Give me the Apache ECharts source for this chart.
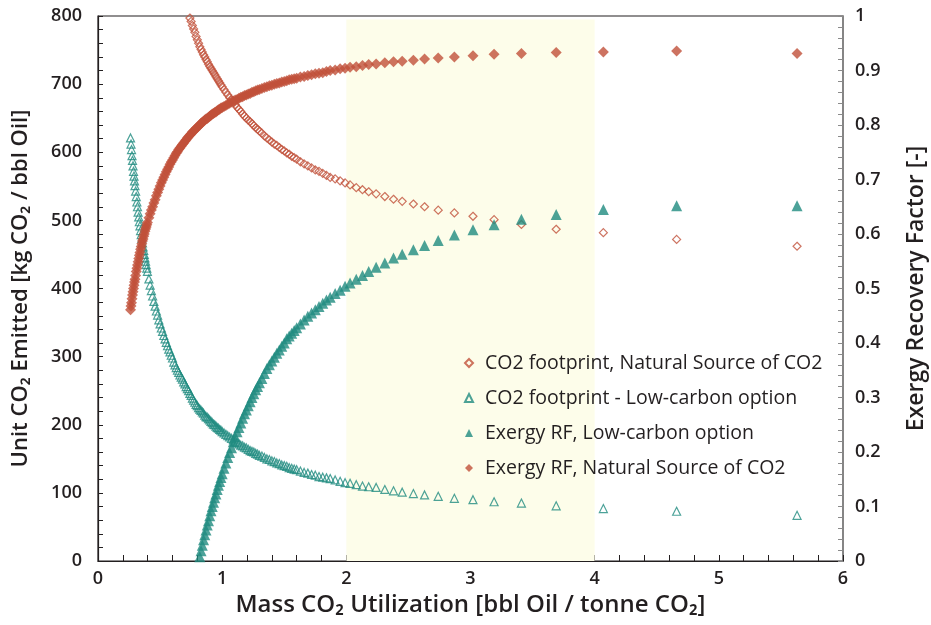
<!DOCTYPE html>
<html><head><meta charset="utf-8">
<script src="https://cdn.jsdelivr.net/npm/echarts@6/dist/echarts.min.js"></script>
<style>html,body{margin:0;padding:0;background:#fff}#c{width:931px;height:625px}</style>
</head><body><div id="c"></div>
<script>
// Mass CO2 utilization [bbl Oil / tonne CO2] (shared x values)
const mcu = [
  0.262,0.266,0.270,0.274,0.278,0.282,0.286,0.290,0.294,0.298,
  0.303,0.308,0.313,0.318,0.323,0.328,0.333,0.338,0.343,0.348,0.353,0.358,0.363,0.368,0.373,0.378,0.383,0.388,0.393,0.398,
  0.41,0.42,0.43,0.44,0.45,0.46,0.47,0.48,0.49,0.50,0.51,0.52,0.53,0.54,0.55,0.56,0.57,0.58,0.59,0.60,
  0.61,0.62,0.63,0.64,0.65,0.66,0.67,0.68,0.69,0.70,0.71,0.72,0.73,0.74,0.75,0.76,0.77,0.78,0.79,0.80,
  0.81,0.82,0.83,0.84,0.85,0.86,0.87,0.88,0.89,0.90,0.91,0.92,0.93,0.94,0.95,0.96,0.97,0.98,0.99,1.00,
  1.015,1.03,1.045,1.06,1.075,1.09,1.105,1.12,1.135,1.15,1.165,1.18,1.195,1.21,1.225,1.24,1.255,1.27,1.285,1.30,
  1.32,1.34,1.36,1.38,1.40,1.42,1.44,1.46,1.48,1.50,1.52,1.54,1.56,1.58,1.60,
  1.63,1.66,1.69,1.72,1.75,1.78,1.81,1.84,
  1.87,1.91,1.95,1.99,2.03,2.08,2.13,2.18,2.24,2.31,2.38,2.45,2.54,2.63,2.74,2.87,3.02,3.19,3.41,3.69,4.07,4.66,5.63
];

// CO2 footprint, Natural Source of CO2 [kg CO2 / bbl Oil] (visible from x = 0.74 on; aligned to the end of mcu)
const footprintNatural = [
  797,792,786,781,776,770,
  765,760,755,751,747,743,740,736,733,729,
  726,723,720,717,714,711,708,705,702,699,
  696,
  692,688,684,680,677,673,670,666,663,660,656,653,650,647,645,642,639,636,634,631,
  628,624,621,618,615,612,610,607,604,602,599,597,594,592,590,
  586,583,580,577,574,572,569,566,
  563,561,558,555,552,548,545,542,539,535,531,528,524,520,515,511,506,501,494,487,482,472,462
];

// CO2 footprint - Low-carbon option [kg CO2 / bbl Oil]
const footprintLowCarbon = [
  621,612,604,595,588,580,572,565,558,551,
  543,535,527,520,512,505,498,492,485,479,473,467,461,456,450,445,440,435,430,425,
  414,405,397,389,381,374,367,361,354,348,342,337,331,326,321,316,311,307,302,298,
  292,288,284,280,277,273,270,267,263,260,256,253,250,246,243,239,236,233,230,228,
  225,223,221,219,217,214,212,211,209,207,205,203,201,200,198,196,195,193,192,190,
  188,186,184,182,180,178,176,174,172,170,169,167,166,164,162,161,160,158,157,155,
  154,152,150,149,147,146,144,143,141,140,139,137,136,135,134,
  132,130,129,127,126,124,123,122,
  121,119,117,115,114,112,110,109,108,105,103,101,99,97,95,92,90,87,85,81,77,73,67
];

// Exergy RF, Low-carbon option [-] (visible from x = 0.82 on; aligned to the end of mcu)
const rfLowCarbon = [
  0.008,0.019,0.029,0.039,0.048,0.057,0.066,0.074,
  0.083,0.092,0.100,0.108,0.116,0.123,0.131,0.139,0.146,0.153,
  0.160,
  0.170,0.180,0.190,0.199,0.208,0.219,0.228,0.237,0.245,0.253,0.262,0.270,0.277,0.285,0.292,0.300,0.307,0.314,0.320,0.327,
  0.335,0.344,0.353,0.360,0.367,0.374,0.381,0.387,0.394,0.400,0.408,0.413,0.418,0.423,0.428,
  0.435,0.442,0.449,0.455,0.461,0.467,0.473,0.479,
  0.484,0.491,0.497,0.504,0.510,0.517,0.524,0.531,0.539,0.547,0.556,0.563,0.571,0.579,0.588,0.598,0.608,0.617,0.627,0.636,0.645,0.652,0.652
];

// Exergy RF, Natural Source of CO2 [-]
const rfNatural = [
  0.461,0.468,0.474,0.481,0.488,0.494,0.500,0.506,0.512,0.517,
  0.524,0.531,0.537,0.543,0.549,0.555,0.561,0.566,0.572,0.577,0.582,0.587,0.591,0.596,0.600,0.605,0.609,0.613,0.617,0.621,
  0.630,0.637,0.644,0.650,0.657,0.663,0.670,0.676,0.682,0.688,0.694,0.699,0.704,0.709,0.714,0.719,0.723,0.728,0.732,0.736,
  0.740,0.744,0.748,0.751,0.755,0.758,0.761,0.764,0.767,0.770,0.773,0.776,0.779,0.781,0.784,0.787,0.789,0.791,0.794,0.796,
  0.798,0.800,0.803,0.805,0.807,0.809,0.811,0.812,0.814,0.816,0.818,0.820,0.821,0.823,0.824,0.826,0.828,0.829,0.831,0.832,
  0.834,0.836,0.838,0.840,0.842,0.844,0.846,0.847,0.849,0.851,0.852,0.854,0.855,0.857,0.858,0.860,0.861,0.863,0.864,0.865,
  0.867,0.869,0.870,0.872,0.873,0.875,0.876,0.877,0.879,0.880,0.881,0.883,0.884,0.885,0.886,
  0.888,0.889,0.891,0.892,0.894,0.895,0.896,0.898,
  0.900,0.901,0.903,0.904,0.906,0.907,0.909,0.911,0.912,0.914,0.916,0.917,0.919,0.921,0.923,0.925,0.927,0.930,0.931,0.933,0.934,0.936,0.931
];

const seriesNames = [
  'CO2 footprint, Natural Source of CO2',
  'CO2 footprint - Low-carbon option',
  'Exergy RF, Low-carbon option',
  'Exergy RF, Natural Source of CO2'
];
const shadedRange = [2, 4];

const RED = '#c1503a';
const TEAL = '#1f8b80';
const INK = '#231f20';
const FONT = 'Open Sans';

function pairs(ys) {
  const off = mcu.length - ys.length;
  return ys.map((y, i) => [mcu[off + i], y]);
}

const chart = echarts.init(document.getElementById('c'), null, {renderer: 'canvas'});
chart.setOption({
  animation: false,
  backgroundColor: '#fff',
  grid: {left: 98, right: 88, top: 16, bottom: 64, outerBoundsMode: 'none', containLabel: false,
    show: true, borderColor: INK, borderWidth: 1.2, backgroundColor: 'transparent'},
  legend: {
    data: seriesNames,
    orient: 'vertical', left: 459, top: 348,
    itemWidth: 8, itemHeight: 8, itemGap: 15,
    textStyle: {fontSize: 19.5, color: INK, fontFamily: FONT, padding: [0, 0, 0, 7]}
  },
  xAxis: {
    type: 'value', min: 0, max: 6, interval: 1,
    axisLine: {lineStyle: {color: INK, width: 1.2}},
    axisTick: {inside: true, length: 6, lineStyle: {color: INK}},
    minorTick: {show: true, splitNumber: 5, length: 6, lineStyle: {color: INK}},
    splitLine: {show: false},
    axisLabel: {fontSize: 18, color: INK, fontFamily: FONT, fontWeight: 600, margin: 9},
    name: 'Mass CO₂ Utilization [bbl Oil / tonne CO₂]',
    nameLocation: 'middle', nameGap: 31,
    nameTextStyle: {fontSize: 24, fontWeight: 600, color: INK, fontFamily: FONT}
  },
  yAxis: [{
    type: 'value', min: 0, max: 800, interval: 100,
    axisLine: {show: true, lineStyle: {color: INK, width: 1.2}},
    axisTick: {show: true, inside: true, length: 5, lineStyle: {color: INK}},
    minorTick: {show: true, splitNumber: 5, length: 5, lineStyle: {color: INK}},
    splitLine: {show: false},
    axisLabel: {fontSize: 18, color: INK, fontFamily: FONT, fontWeight: 600, margin: 16},
    name: 'Unit CO₂ Emitted [kg CO₂ / bbl Oil]',
    nameLocation: 'middle', nameGap: 66,
    nameTextStyle: {fontSize: 22, fontWeight: 600, color: INK, fontFamily: FONT}
  }, {
    type: 'value', min: 0, max: 1, interval: 0.1, position: 'right',
    axisLine: {show: true, lineStyle: {color: '#8a8a8a', width: 1.5}},
    axisTick: {show: true, inside: true, length: 5, lineStyle: {color: '#8a8a8a'}},
    minorTick: {show: true, splitNumber: 5, length: 5, lineStyle: {color: '#8a8a8a'}},
    splitLine: {show: false},
    axisLabel: {fontSize: 18, color: INK, fontFamily: FONT, fontWeight: 600, margin: 12},
    name: 'Exergy Recovery Factor [-]',
    nameLocation: 'middle', nameGap: 62,
    nameTextStyle: {fontSize: 23, fontWeight: 600, color: INK, fontFamily: FONT}
  }],
  series: [{
    name: 'shade', type: 'scatter', data: [], z: 1, silent: true,
    markArea: {silent: true, itemStyle: {color: '#fdfdea'},
      data: [[{coord: [shadedRange[0], 0]}, {coord: [shadedRange[1], 795]}]]}
  }, {
    name: seriesNames[0], type: 'scatter', yAxisIndex: 0, z: 3,
    symbol: 'diamond', symbolSize: 8,
    itemStyle: {color: 'transparent', borderColor: RED, borderWidth: 1.2},
    data: pairs(footprintNatural)
  }, {
    name: seriesNames[1], type: 'scatter', yAxisIndex: 0, z: 3,
    symbol: 'triangle', symbolSize: 8,
    itemStyle: {color: 'transparent', borderColor: TEAL, borderWidth: 1.2},
    data: pairs(footprintLowCarbon)
  }, {
    name: seriesNames[2], type: 'scatter', yAxisIndex: 1, z: 3,
    symbol: 'triangle', symbolSize: 11,
    itemStyle: {color: TEAL},
    data: pairs(rfLowCarbon)
  }, {
    name: seriesNames[3], type: 'scatter', yAxisIndex: 1, z: 3,
    symbol: 'diamond', symbolSize: 11,
    itemStyle: {color: RED},
    data: pairs(rfNatural)
  }]
});
</script>
</body></html>
